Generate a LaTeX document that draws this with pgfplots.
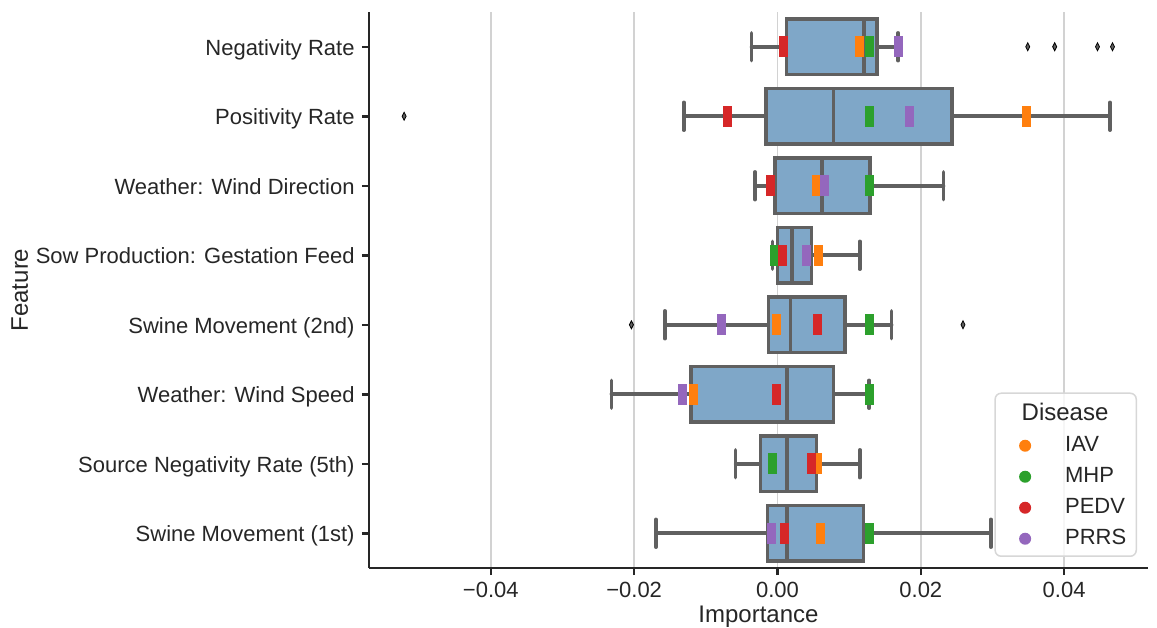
\documentclass[border=0pt]{standalone}
\usepackage{pgfplots}
\pgfplotsset{compat=1.18}
\usepgfplotslibrary{statistics}
\usepackage{fontspec}
\setmainfont{Liberation Sans}
\definecolor{iav}{HTML}{FF7F0E}
\definecolor{mhp}{HTML}{2CA02C}
\definecolor{pedv}{HTML}{D62728}
\definecolor{prrs}{HTML}{9467BD}
\definecolor{boxfill}{RGB}{127,167,200}
\definecolor{boxedge}{RGB}{96,96,96}
\definecolor{spine}{RGB}{38,38,38}
\definecolor{gridc}{RGB}{210,210,210}
\definecolor{legedge}{RGB}{215,215,215}
\pgfdeclareplotmark{vbar}{\pgfpathrectangle{\pgfqpoint{-2.25pt}{-5.25pt}}{\pgfqpoint{4.5pt}{10.5pt}}\pgfusepathqfill}
\pgfplotsset{
  bx/.style={forget plot, boxplot/draw direction=x,
    boxplot/box extend=0.8, boxplot/whisker extend=0.4,
    boxplot/every box/.style={draw=boxedge, fill=boxfill, line width=1.8pt},
    boxplot/every whisker/.style={draw=boxedge, line width=1.8pt, line cap=round},
    boxplot/every median/.style={draw=boxedge, line width=1.8pt}},
  mk/.style={forget plot, only marks, mark=vbar, color=#1},
  legdot/.style={legend image code/.code={%
      \path[draw=none, fill=none] (0pt,0pt) (17pt,0pt);
      \fill[#1, fill opacity=1, draw=none] (10pt,0pt) circle[radius=3pt];}},
}
\begin{document}
\begin{tikzpicture}
\begin{axis}[
  at={(0pt,0pt)}, anchor=south west,
  scale only axis, width=389.5pt, height=278pt,
  xmin=-0.0570, xmax=0.0517, ymin=-0.5, ymax=7.5,
  axis x line*=bottom, axis y line*=left,
  axis line style={-, line width=1.25pt, draw=spine},
  xtick={-0.04,-0.02,0,0.02,0.04},
  xticklabels={−0.04,−0.02,0.00,0.02,0.04},
  ytick={0,1,2,3,4,5,6,7},
  yticklabels={Swine Movement (1st),Source Negativity Rate (5th),Weather: Wind Speed,Swine Movement (2nd),Sow Production: Gestation Feed,Weather: Wind Direction,Positivity Rate,Negativity Rate},
  tick align=outside, major tick length=3.5pt,
  tick style={line width=1.25pt, draw=spine},
  xmajorgrids, grid style={gridc, line width=0.75pt},
  ticklabel style={font=\fontsize{11pt}{13pt}\selectfont, text=spine},
  xticklabel style={anchor=base, inner sep=0pt, yshift=-11pt},
  yticklabel style={anchor=base east, inner sep=0pt, xshift=-3.5pt, yshift=-4.3pt},
  xlabel={Importance}, ylabel={Feature},
  xlabel style={at={(axis description cs:0.5,-0.0984)}, anchor=base, inner sep=0pt, font=\fontsize{12pt}{14pt}\selectfont, text=spine},
  ylabel style={at={(axis description cs:-0.4378,0.5)}, anchor=base, inner sep=0pt, font=\fontsize{12pt}{14pt}\selectfont, text=spine},
  legend cell align=left,
  legend style={at={(axis description cs:0.9859,0.0198)}, anchor=south east,
    draw=legedge, line width=0.75pt, rounded corners=3pt, fill=white, fill opacity=0.8, draw opacity=1, text opacity=1,
    font=\fontsize{11pt}{13pt}\selectfont, text=spine,
    inner xsep=5pt, inner ysep=3.5pt, row sep=5pt, column sep=13pt,
    nodes={inner sep=0pt, text height=8pt, text depth=2.5pt}},
]
% boxes
\addplot[bx, boxplot prepared={draw position=7, lower whisker=-0.00362, lower quartile=0.00125, median=0.01210, upper quartile=0.01391, upper whisker=0.01684}] coordinates {};
\addplot[bx, boxplot prepared={draw position=6, lower whisker=-0.01308, lower quartile=-0.00160, median=0.00779, upper quartile=0.02435, upper whisker=0.04640}] coordinates {};
\addplot[bx, boxplot prepared={draw position=5, lower whisker=-0.00313, lower quartile=-0.00035, median=0.00619, upper quartile=0.01287, upper whisker=0.02317}] coordinates {};
\addplot[bx, boxplot prepared={draw position=4, lower whisker=-0.00070, lower quartile=0.00000, median=0.00202, upper quartile=0.00473, upper whisker=0.01148}] coordinates {};
\addplot[bx, boxplot prepared={draw position=3, lower whisker=-0.01572, lower quartile=-0.00125, median=0.00181, upper quartile=0.00946, upper whisker=0.01593}] coordinates {};
\addplot[bx, boxplot prepared={draw position=2, lower whisker=-0.02317, lower quartile=-0.01210, median=0.00132, upper quartile=0.00779, upper whisker=0.01280}] coordinates {};
\addplot[bx, boxplot prepared={draw position=1, lower whisker=-0.00584, lower quartile=-0.00237, median=0.00132, upper quartile=0.00543, upper whisker=0.01148}] coordinates {};
\addplot[bx, boxplot prepared={draw position=0, lower whisker=-0.01697, lower quartile=-0.00139, median=0.00132, upper quartile=0.01203, upper whisker=0.02977}] coordinates {};
% outliers
\addplot[forget plot, only marks, mark=diamond*, mark size=2pt, mark options={xscale=0.667, fill=boxedge, draw=none}] coordinates {
 (0.03492,7) (0.03868,7) (0.04466,7) (0.04675,7) (-0.05210,6) (-0.02038,3) (0.02588,3)};
% disease markers
\addplot[mk=iav] coordinates {(0.01148,7) (0.03471,6) (0.00550,5) (0.00577,4) (-0.00007,3) (-0.01169,2) (0.00563,1) (0.00605,0)};
\addplot[mk=mhp] coordinates {(0.01287,7) (0.01287,6) (0.01287,5) (-0.00035,4) (0.01287,3) (0.01287,2) (-0.00070,1) (0.01287,0)};
\addplot[mk=pedv] coordinates {(0.00083,7) (-0.00696,6) (-0.00104,5) (0.00070,4) (0.00563,3) (-0.00014,2) (0.00473,1) (0.00104,0)};
\addplot[mk=prrs] coordinates {(0.01690,7) (0.01843,6) (0.00661,5) (0.00403,4) (-0.00779,3) (-0.01329,2) (-0.00077,0)};
% legend
\addlegendimage{empty legend}
\addlegendentry[text height=10pt, font=\fontsize{12pt}{14pt}\selectfont]{\hspace*{-21.7pt}Disease}
\addlegendimage{legdot=iav}
\addlegendentry{IAV}
\addlegendimage{legdot=mhp}
\addlegendentry{MHP}
\addlegendimage{legdot=pedv}
\addlegendentry{PEDV}
\addlegendimage{legdot=prrs}
\addlegendentry{PRRS}
\end{axis}
\pgfresetboundingbox
\path[use as bounding box] (-184.5pt,-29.5pt) rectangle (394pt,284pt);
\end{tikzpicture}
\end{document}
